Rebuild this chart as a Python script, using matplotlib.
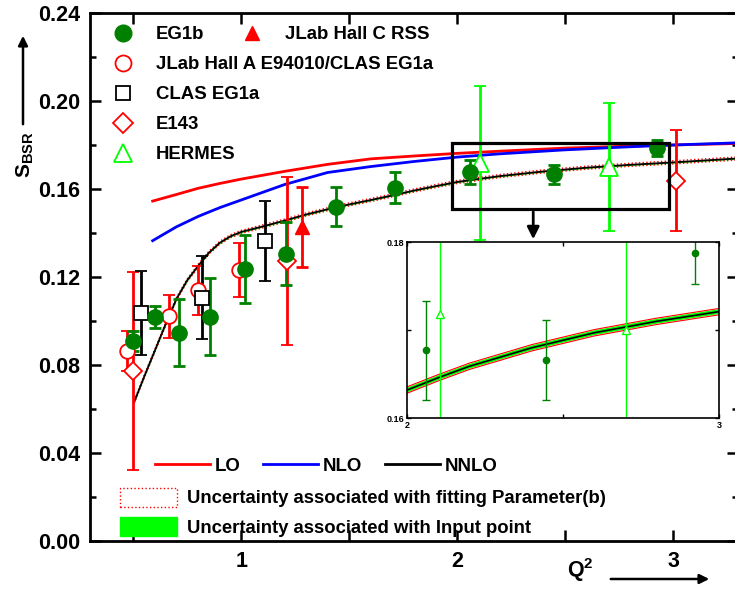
import numpy as np
import matplotlib
matplotlib.use("Agg")
import matplotlib.pyplot as plt
from matplotlib.lines import Line2D
from matplotlib.patches import Patch, Rectangle
from matplotlib.ticker import MultipleLocator

plt.rcParams['font.family'] = ['Liberation Sans', 'DejaVu Sans']
plt.rcParams['font.weight'] = 'bold'
plt.rcParams['mathtext.default'] = 'regular'

# --- experimental points (Q^2, S_BSR, error) ---
eg1b_q2 = [0.497, 0.600, 0.714, 0.854, 1.018, 1.207, 1.441, 1.711, 2.060, 2.446, 2.923]
eg1b_s = [0.0909, 0.1018, 0.0947, 0.1020, 0.1236, 0.1305, 0.1520, 0.1606, 0.1677, 0.1666, 0.1788]
eg1b_err = [0.0046, 0.0052, 0.0151, 0.0175, 0.0155, 0.0143, 0.0090, 0.0070, 0.0056, 0.0045, 0.0036]

halla_q2 = [0.471, 0.664, 0.798, 0.990]
halla_s = [0.0864, 0.1021, 0.1140, 0.1232]
halla_err = [0.0092, 0.0097, 0.0112, 0.0122]

eg1a_q2 = [0.536, 0.817, 1.109]
eg1a_s = [0.1036, 0.1106, 0.1365]
eg1a_err = [0.0192, 0.0190, 0.0181]

e143_q2 = [0.497, 1.213, 3.011]
e143_s = [0.0773, 0.1272, 0.1638]
e143_err = [0.0450, 0.0381, 0.0230]

rss_q2 = [1.283]
rss_s = [0.1427]
rss_err = [0.0183]

hermes_q2 = [2.105, 2.703]
hermes_s = [0.1718, 0.1700]
hermes_err = [0.0350, 0.0290]

# --- pQCD curves ---
lo_q2 = [0.59, 0.7, 0.8, 0.9, 1.0, 1.2, 1.4, 1.6, 1.8, 2.0, 2.2, 2.5, 2.8, 3.0, 3.3]
lo_s = [0.1545, 0.1575, 0.1603, 0.1625, 0.1645, 0.1680, 0.1712, 0.1737, 0.1750, 0.1762, 0.1772, 0.1786, 0.1795, 0.1800, 0.1807]

nlo_q2 = [0.59, 0.7, 0.8, 0.9, 1.0, 1.2, 1.4, 1.6, 1.8, 2.0, 2.2, 2.5, 2.8, 3.0, 3.3]
nlo_s = [0.1365, 0.1428, 0.1475, 0.1515, 0.1550, 0.1620, 0.1675, 0.1702, 0.1725, 0.1745, 0.1760, 0.1778, 0.1792, 0.1800, 0.1810]

nnlo_q2 = [0.505, 0.55, 0.60, 0.65, 0.70, 0.75, 0.80, 0.85, 0.90, 0.95, 1.0, 1.1, 1.2, 1.3,
           1.4, 1.5, 1.6, 1.7, 1.8, 1.9, 2.0, 2.1, 2.2, 2.4, 2.6, 2.8, 3.0, 3.2, 3.3]
nnlo_s = [0.0633, 0.0745, 0.0865, 0.0985, 0.1100, 0.1185, 0.1250, 0.1310, 0.1355, 0.1385, 0.1405, 0.1430, 0.1456, 0.1484,
          0.1508, 0.1530, 0.1550, 0.1571, 0.1593, 0.1613, 0.1632, 0.1646, 0.1659, 0.1680, 0.1697, 0.1710, 0.1721, 0.1733, 0.1739]
fit_band = 0.0007     # uncertainty from fitting parameter b
input_band = 0.0003   # uncertainty from input point

GREEN = '#008000'
LIME = '#00FF00'

fig = plt.figure(figsize=(7.35, 5.91), dpi=100)
ax = fig.add_axes([90 / 735, 50 / 591, 648 / 735, 528 / 591])

nq = np.array(nnlo_q2)
ns = np.array(nnlo_s)

ax.plot(lo_q2, lo_s, color='red', lw=2, zorder=2)
ax.plot(nlo_q2, nlo_s, color='blue', lw=2, zorder=2)
ax.fill_between(nq, ns - input_band, ns + input_band, color=LIME, lw=0, zorder=2)
ax.plot(nq, ns + fit_band, color='red', lw=1, ls=':', zorder=2)
ax.plot(nq, ns - fit_band, color='red', lw=1, ls=':', zorder=2)
ax.plot(nq, ns, color='black', lw=1.3, zorder=2)

eb = dict(elinewidth=2, capsize=4.5, capthick=2, ls='none', zorder=3)
ax.errorbar(e143_q2, e143_s, yerr=e143_err, marker='D', ms=9.5, color='red', mfc='white', mec='red', mew=1.3, **eb)
ax.errorbar(halla_q2, halla_s, yerr=halla_err, marker='o', ms=10.5, color='red', mfc='white', mec='red', mew=1.3, **eb)
ax.errorbar(eg1a_q2, eg1a_s, yerr=eg1a_err, marker='s', ms=10, color='black', mfc='white', mec='black', mew=1.3, **eb)
ax.errorbar(rss_q2, rss_s, yerr=rss_err, marker='^', ms=9.5, color='red', **eb)
ax.errorbar(hermes_q2, hermes_s, yerr=hermes_err, marker='^', ms=13, color=LIME, mfc='white', mec=LIME, mew=1.3, **eb)
ax.errorbar(eg1b_q2, eg1b_s, yerr=eg1b_err, marker='o', ms=11, color=GREEN, **eb)

ax.set_xlim(0.3, 3.3)
ax.set_ylim(0, 0.24)
ax.set_xticks([0.5, 1, 1.5, 2, 2.5, 3])
ax.set_xticklabels(['', '1', '', '2', '', '3'])
ax.set_yticks(np.arange(0, 0.241, 0.04))
ax.set_yticklabels(['%.2f' % v for v in np.arange(0, 0.241, 0.04)])
ax.yaxis.set_minor_locator(MultipleLocator(0.02))
ax.tick_params(which='both', direction='in', top=True, right=True, width=1.8, labelsize=15.5)
ax.tick_params(which='major', length=8, pad=7)
ax.tick_params(which='minor', length=4)
for sp in ax.spines.values():
    sp.set_linewidth(2)

# zoom box and arrow to the inset
ax.add_patch(Rectangle((1.976, 0.1508), 1.004, 0.0303, fill=False, ec='black', lw=2.3, zorder=5))
ax.annotate('', xy=(2.352, 0.1359), xytext=(2.352, 0.1508),
            arrowprops=dict(arrowstyle='-|>', color='black', lw=2, mutation_scale=18),
            annotation_clip=False, zorder=5)

# legends
h_top = [
    Line2D([], [], ls='none', marker='o', ms=12, color=GREEN),
    Line2D([], [], ls='none', marker='o', ms=11.5, mfc='white', mec='red', mew=1.3),
    Line2D([], [], ls='none', marker='s', ms=10, mfc='white', mec='black', mew=1.3),
    Line2D([], [], ls='none', marker='D', ms=10, mfc='white', mec='red', mew=1.3),
    Line2D([], [], ls='none', marker='^', ms=13, mfc='white', mec=LIME, mew=1.3),
]
lab_top = ['EG1b', 'JLab Hall A E94010/CLAS EG1a', 'CLAS EG1a', 'E143', 'HERMES']
leg_kw = dict(loc='upper left', frameon=False, fontsize=13.4, borderpad=0, borderaxespad=0,
              handlelength=1.95, handletextpad=0.78, labelspacing=0.7)
leg1 = ax.legend(h_top, lab_top, bbox_to_anchor=(0.023, 0.975), **leg_kw)
ax.add_artist(leg1)
leg2 = ax.legend([Line2D([], [], ls='none', marker='^', ms=9.5, color='red')], ['JLab Hall C RSS'],
                 bbox_to_anchor=(0.222, 0.975), **leg_kw)
ax.add_artist(leg2)

h_lines = [Line2D([], [], color='red', lw=2), Line2D([], [], color='blue', lw=2),
           Line2D([], [], color='black', lw=2)]
leg3 = ax.legend(h_lines, ['LO', 'NLO', 'NNLO'], ncol=3, loc='upper left', bbox_to_anchor=(0.1, 0.158),
                 frameon=False, fontsize=13.4, borderpad=0, borderaxespad=0,
                 handlelength=2.95, handletextpad=0.28, columnspacing=1.2)
ax.add_artist(leg3)
h_band = [Patch(facecolor='white', edgecolor='red', ls=':', lw=1),
          Patch(facecolor=LIME, edgecolor=LIME)]
ax.legend(h_band, ['Uncertainty associated with fitting Parameter(b)', 'Uncertainty associated with Input point'],
          loc='upper left', bbox_to_anchor=(0.046, 0.101), frameon=False, fontsize=13.3,
          borderpad=0, borderaxespad=0, handlelength=3.1, handleheight=1.2, handletextpad=0.55, labelspacing=0.53)

# axis titles with arrows
fig.text(25 / 735, 1 - 155 / 591, 'S$_{BSR}$', rotation=90, fontsize=15, ha='center', va='center')
ax.annotate('', xy=(23, 591 - 33), xycoords='figure pixels', xytext=(23, 591 - 127), textcoords='figure pixels',
            arrowprops=dict(arrowstyle='-|>', color='black', lw=1.8, mutation_scale=14), annotation_clip=False)
fig.text(580 / 735, 1 - 570 / 591, 'Q$^2$', fontsize=15.5, ha='center', va='center')
ax.annotate('', xy=(712, 591 - 579), xycoords='figure pixels', xytext=(608, 591 - 579), textcoords='figure pixels',
            arrowprops=dict(arrowstyle='-|>', color='black', lw=1.8, mutation_scale=14), annotation_clip=False)

# inset: zoom on 2 < Q^2 < 3
axins = fig.add_axes([407 / 735, (591 - 418.3) / 591, 312 / 735, 176.3 / 591])
axins.fill_between(nq, ns - input_band * 0.9, ns + input_band * 0.9, color=LIME, lw=0)
axins.plot(nq, ns + input_band * 1.2, color='red', lw=0.8)
axins.plot(nq, ns - input_band * 1.2, color='red', lw=0.8)
axins.plot(nq, ns, color='black', lw=1.2)
axins.errorbar(eg1b_q2, eg1b_s, yerr=eg1b_err, marker='o', ms=4.5, color=GREEN, elinewidth=1,
               capsize=3, capthick=1, ls='none')
axins.errorbar(hermes_q2, hermes_s, yerr=hermes_err, marker='^', ms=6, color=LIME, mfc='white', mec=LIME,
               elinewidth=1, capsize=3, ls='none')
axins.set_xlim(2, 3)
axins.set_ylim(0.16, 0.18)
axins.set_xticks([2, 2.5, 3])
axins.set_xticklabels(['2', '', '3'])
axins.set_yticks([0.16, 0.17, 0.18])
axins.set_yticklabels(['0.16', '', '0.18'])
axins.tick_params(direction='in', top=True, right=True, length=3, width=1, labelsize=6.5, pad=2)
for sp in axins.spines.values():
    sp.set_linewidth(1.2)

fig.savefig('out.png', dpi=100)
